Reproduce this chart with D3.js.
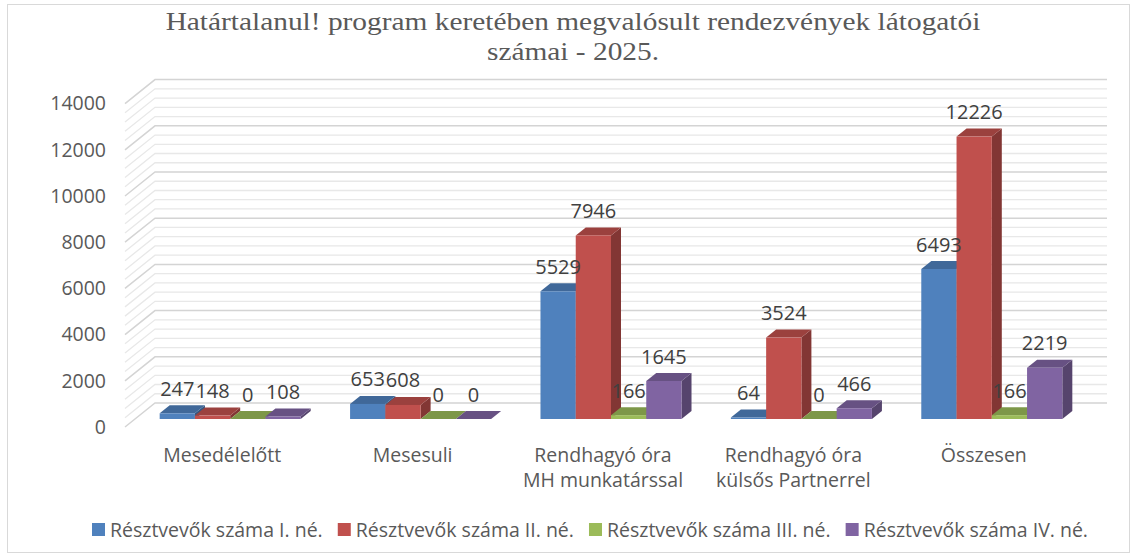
<!DOCTYPE html>
<html>
<head>
<meta charset="utf-8">
<script src="https://cdn.jsdelivr.net/npm/d3@7"></script>
<style>
  body { margin: 0; background: #fff; }
  svg { display: block; }
</style>
</head>
<body>
<svg id="chart"></svg>
<script>
// chart data
var categories = ["Mesedélelőtt", "Mesesuli", "Rendhagyó óra MH munkatárssal", "Rendhagyó óra külsős Partnerrel", "Összesen"];
var categoryLines = [["Mesedélelőtt"], ["Mesesuli"], ["Rendhagyó óra", "MH munkatárssal"], ["Rendhagyó óra", "külsős Partnerrel"], ["Összesen"]];
var seriesNames = ["Résztvevők száma I. né.", "Résztvevők száma II. né.", "Résztvevők száma III. né.", "Résztvevők száma IV. né."];
var seriesI = [247, 653, 5529, 64, 6493];
var seriesII = [148, 608, 7946, 3524, 12226];
var seriesIII = [0, 0, 166, 0, 166];
var seriesIV = [108, 0, 1645, 466, 2219];
var seriesColors = ["#4f81bd", "#c0504d", "#9bbb59", "#8064a2"];
var yTicks = [0, 2000, 4000, 6000, 8000, 10000, 12000, 14000];
var yMinorTicks = d3.range(0, 14001, 400);
var titleLines = ["Határtalanul! program keretében megvalósult rendezvények látogatói", "számai - 2025."];

var allSeries = [seriesI, seriesII, seriesIII, seriesIV];

var width = 1135;
var height = 557;
var font = "Open Sans, sans-serif";

var svg = d3.select("#chart")
  .attr("width", width)
  .attr("height", height);

// outer border
svg.append("rect")
  .attr("x", 7.5).attr("y", 4.5)
  .attr("width", 1122).attr("height", 548)
  .attr("fill", "#fff")
  .attr("stroke", "#d9d9d9");

// title (serif, stretched a bit wider like the original)
svg.append("g")
  .attr("transform", "translate(573,0) scale(1.13,1)")
  .selectAll("text")
  .data(titleLines)
  .enter()
  .append("text")
  .attr("x", 0)
  .attr("y", (d, i) => 30 + i * 30)
  .attr("text-anchor", "middle")
  .attr("font-family", "Liberation Serif, serif")
  .attr("font-size", 26)
  .attr("fill", "#595959")
  .text(d => d);

// 3d geometry: depth 0 = front of floor, depth 1 = back wall
var depthX = 30, depthY = -24;
function off(d) { return [depthX * d, depthY * d]; }

var y = d3.scaleLinear().domain([0, 14000]).range([427, 103.6]);
var xCat = d3.scaleBand().domain(categories).range([125, 1077]);
var xSer = d3.scaleBand().domain(seriesNames).range([0, xCat.bandwidth()]).paddingOuter(0.7);

// walls: minor and major gridlines on back wall plus left diagonal
var grid = svg.append("g");
var back = off(1);
function gridPath(v) {
  return "M125," + y(v) + "L" + (125 + back[0]) + "," + (y(v) + back[1]) + "H" + (1077 + back[0]);
}
grid.selectAll("path.minor")
  .data(yMinorTicks.filter(v => v % 2000 !== 0))
  .enter()
  .append("path")
  .attr("d", gridPath)
  .attr("fill", "none")
  .attr("stroke", "#e8e8e8")
  .attr("stroke-width", 1.3);
grid.selectAll("path.major")
  .data(yTicks)
  .enter()
  .append("path")
  .attr("d", gridPath)
  .attr("fill", "none")
  .attr("stroke", "#d4d4d4")
  .attr("stroke-width", 1.5);

// y axis labels
svg.append("g")
  .selectAll("text")
  .data(yTicks)
  .enter()
  .append("text")
  .attr("x", 106)
  .attr("y", d => y(d))
  .attr("dy", "0.35em")
  .attr("text-anchor", "end")
  .attr("font-family", font)
  .attr("font-size", 19.5)
  .attr("fill", "#595959")
  .text(d => d);

// bars
var d0 = off(1 / 3), d1 = off(2 / 3);
var bx = d1[0] - d0[0], by = d1[1] - d0[1];
var bw = xSer.bandwidth();
var bars = [];
categories.forEach((c, ci) => {
  seriesNames.forEach((s, si) => {
    bars.push({ cat: c, ser: s, si: si, value: allSeries[si][ci] });
  });
});

var barG = svg.append("g");
bars.forEach(b => {
  var x = xCat(b.cat) + xSer(b.ser) + d0[0];
  var yb = y(0) + d0[1];
  var yt = y(b.value) + d0[1];
  var col = d3.color(seriesColors[b.si]);
  var g = barG.append("g");
  // side
  g.append("path")
    .attr("d", "M" + (x + bw) + "," + yb + "L" + (x + bw + bx) + "," + (yb + by) + "L" + (x + bw + bx) + "," + (yt + by) + "L" + (x + bw) + "," + yt + "Z")
    .attr("fill", col.darker(1.1));
  // top
  g.append("path")
    .attr("d", "M" + x + "," + yt + "L" + (x + bx) + "," + (yt + by) + "L" + (x + bw + bx) + "," + (yt + by) + "L" + (x + bw) + "," + yt + "Z")
    .attr("fill", col.darker(0.6));
  // front
  g.append("rect")
    .attr("x", x)
    .attr("y", yt)
    .attr("width", bw)
    .attr("height", yb - yt)
    .attr("fill", col);
  b.lx = x + bw / 2;
  b.ly = yt + by - 9.5;
});

// value labels
svg.append("g")
  .selectAll("text")
  .data(bars)
  .enter()
  .append("text")
  .attr("x", d => d.lx)
  .attr("y", d => d.ly)
  .attr("text-anchor", "middle")
  .attr("font-family", font)
  .attr("font-size", 20)
  .attr("fill", "#404040")
  .text(d => d.value);

// category labels
var catG = svg.append("g")
  .selectAll("text")
  .data(categories)
  .enter()
  .append("text")
  .attr("x", d => xCat(d) + xCat.bandwidth() / 2 + 2)
  .attr("y", 462)
  .attr("text-anchor", "middle")
  .attr("font-family", font)
  .attr("font-size", 19.5)
  .attr("fill", "#595959");
catG.selectAll("tspan")
  .data((d, i) => categoryLines[i])
  .enter()
  .append("tspan")
  .attr("x", function() { return d3.select(this.parentNode).attr("x"); })
  .attr("dy", (d, i) => i === 0 ? 0 : 25)
  .text(d => d);

// legend, spread between x=92 and x=1088
var legend = svg.append("g").attr("transform", "translate(92, 530)");
var items = seriesNames.map((s, i) => {
  var item = legend.append("g");
  item.append("rect")
    .attr("x", 0).attr("y", -7)
    .attr("width", 13).attr("height", 13)
    .attr("fill", seriesColors[i]);
  var t = item.append("text")
    .attr("x", 18)
    .attr("y", 0)
    .attr("dy", "0.35em")
    .attr("font-family", font)
    .attr("font-size", 19.5)
    .attr("fill", "#595959")
    .text(s);
  return { g: item, w: 18 + t.node().getComputedTextLength() };
});
var gap = (1088 - 92 - d3.sum(items, d => d.w)) / (items.length - 1);
var lx = 0;
items.forEach(it => {
  it.g.attr("transform", "translate(" + lx + ",0)");
  lx += it.w + gap;
});
</script>
</body>
</html>
